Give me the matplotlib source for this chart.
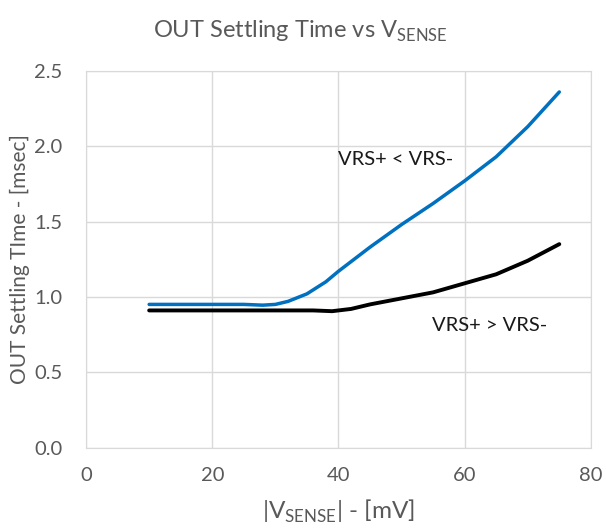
import matplotlib
matplotlib.use('Agg')
import matplotlib.pyplot as plt

plt.rcParams['font.family'] = ['Lato', 'DejaVu Sans']
plt.rcParams['mathtext.fontset'] = 'custom'
plt.rcParams['mathtext.rm'] = 'Lato'

# VRS+ < VRS- (blue)
vs_lt = [10, 15, 20, 25, 28, 30, 32, 35, 38, 40, 45, 50, 55, 60, 65, 70, 75]
t_lt = [0.95, 0.95, 0.95, 0.95, 0.945, 0.95, 0.97, 1.02, 1.10, 1.17, 1.33, 1.48, 1.62, 1.77, 1.93, 2.13, 2.36]

# VRS+ > VRS- (black)
vs_gt = [10, 20, 30, 36, 39, 42, 45, 50, 55, 60, 65, 70, 75]
t_gt = [0.91, 0.91, 0.91, 0.91, 0.905, 0.92, 0.95, 0.99, 1.03, 1.09, 1.15, 1.24, 1.35]

gray = '#595959'
grid = '#D9D9D9'

fig = plt.figure(figsize=(6.06, 5.29), dpi=100)
ax = fig.add_axes([0.142, 0.154, 0.833, 0.712])

ax.plot(vs_lt, t_lt, color='#0070C0', lw=2.5, solid_capstyle='round')
ax.plot(vs_gt, t_gt, color='black', lw=2.8, solid_capstyle='round')

ax.text(49, 1.91, 'VRS+ < VRS-', fontsize=14.5, color='#1a1a1a', ha='center', va='center')
ax.text(64, 0.81, 'VRS+ > VRS-', fontsize=14.5, color='#1a1a1a', ha='center', va='center')

ax.set_xlim(0, 80)
ax.set_ylim(0, 2.5)
ax.set_xticks([0, 20, 40, 60, 80])
ax.set_yticks([0, 0.5, 1.0, 1.5, 2.0, 2.5])
ax.set_yticklabels(['0.0', '0.5', '1.0', '1.5', '2.0', '2.5'])
ax.grid(True, color=grid, lw=1)
ax.set_axisbelow(True)
for s in ax.spines.values():
    s.set_color(grid)
ax.tick_params(length=0, labelsize=14.5, colors=gray)
ax.tick_params(axis='y', pad=17)
ax.tick_params(axis='x', pad=14)

ax.set_xlabel(r'|V$_{\mathregular{SENSE}}$| - [mV]', fontsize=17.5, color=gray, labelpad=10)
ax.set_ylabel('OUT Settling TIme - [msec]', fontsize=15, color=gray, labelpad=3)
fig.text(0.495, 0.94, r'OUT Settling Time vs V$_{\mathregular{SENSE}}$', fontsize=17, color=gray, ha='center', va='center')

fig.savefig('out.png', dpi=100)
